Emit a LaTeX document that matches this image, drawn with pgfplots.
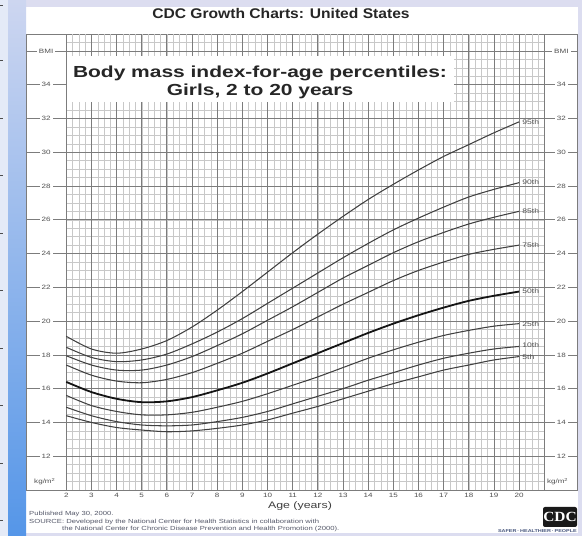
\documentclass[border=0pt]{standalone}
\usepackage{pgfplots}
\pgfplotsset{compat=1.18}
\usepackage{pgfplotstable}
\usepackage{graphicx}
\usepackage{fontspec}
\setmainfont{Liberation Sans}
\newfontfamily\serifb{Liberation Serif}

\definecolor{lav}{HTML}{DCDDF0}
\definecolor{gmaj}{HTML}{7C7C7C}
\definecolor{gmin}{HTML}{C8C8C8}
\definecolor{curve}{HTML}{404040}
\definecolor{txt}{HTML}{505050}
\definecolor{foot}{HTML}{55596A}
\definecolor{botband}{RGB}{200,222,245}
\definecolor{edgepale}{RGB}{228,234,247}
\definecolor{striptop}{RGB}{205,214,240}
\definecolor{stripbot}{RGB}{85,150,232}
\definecolor{slogan}{RGB}{70,85,125}

\pgfplotstableread{
age p5 p10 p25 p50 p75 p85 p90 p95
2 14.4 14.9 15.6 16.4 17.4 17.95 18.45 19.1
3 14.0 14.4 15.0 15.8 16.8 17.4 17.85 18.35
4 13.7 14.05 14.65 15.4 16.45 17.1 17.6 18.1
5 13.55 13.85 14.45 15.2 16.35 17.1 17.7 18.35
6 13.45 13.8 14.45 15.25 16.55 17.4 18.05 18.85
7 13.5 13.85 14.6 15.5 16.95 17.9 18.65 19.65
8 13.65 14.05 14.9 15.9 17.5 18.55 19.35 20.65
9 13.85 14.3 15.25 16.35 18.1 19.25 20.15 21.75
10 14.15 14.65 15.7 16.9 18.8 20.05 21.05 22.9
11 14.55 15.1 16.2 17.5 19.5 20.85 21.95 24.05
12 14.95 15.55 16.7 18.1 20.25 21.7 22.85 25.15
13 15.4 16.0 17.25 18.7 21.0 22.55 23.75 26.2
14 15.85 16.5 17.8 19.3 21.7 23.3 24.6 27.2
15 16.3 16.95 18.3 19.85 22.4 24.05 25.4 28.1
16 16.7 17.4 18.75 20.35 23.0 24.7 26.1 28.95
17 17.1 17.8 19.15 20.8 23.5 25.25 26.75 29.75
18 17.4 18.1 19.45 21.2 23.95 25.75 27.35 30.45
19 17.7 18.35 19.7 21.5 24.25 26.15 27.8 31.15
20 17.9 18.5 19.85 21.75 24.5 26.5 28.2 31.8
}\bmi

\newcommand{\sx}[2]{\scalebox{#1}[1]{#2}}
\newcommand{\tinyf}{\fontsize{6.2}{7}\selectfont}
\newcommand{\pctf}{\fontsize{6.6}{7.5}\selectfont}
\newcommand{\footf}{\fontsize{5.9}{7}\selectfont}

\begin{document}
\begin{tikzpicture}
\path[use as bounding box] (0,0) rectangle (582pt,536pt);
% background
\fill[lav] (0,0) rectangle (582pt,536pt);
\fill[white] (26pt,3pt) rectangle (578pt,529pt);
\fill[botband] (0,0) rectangle (26pt,3pt);
\fill[edgepale] (0,0) rectangle (8pt,536pt);
\shade[top color=striptop, bottom color=stripbot] (8pt,0) rectangle (26pt,536pt);
\foreach \yy in {16,73,131,188,246,303,361,418,476,531}{
  \draw[black!70, line width=0.6pt] (0,\yy pt) -- (3pt,\yy pt);
}
% top title
\node[font=\bfseries\fontsize{14}{16}\selectfont, text=black!85] at (281pt,523pt) {\sx{1.115}{CDC Growth Charts: United States}};

\begin{axis}[
  at={(26pt,46pt)}, anchor=south west,
  width=551pt, height=456pt, scale only axis,
  xmin=0.4, xmax=22.3, ymin=10, ymax=37,
  xtick=\empty, ytick=\empty,
  axis line style={gmaj, line width=0.8pt},
  clip=false,
]
% minor grid
\pgfplotsinvokeforeach{2.25,2.5,...,20.8}{
  \draw[gmin, line width=0.4pt] (axis cs:#1,10) -- (axis cs:#1,37);
}
\pgfplotsinvokeforeach{10.5,11,...,36.6}{
  \draw[gmin, line width=0.4pt] (axis cs:2,#1) -- (axis cs:21,#1);
}
% major grid
\pgfplotsinvokeforeach{12,14,...,36}{
  \draw[gmaj, line width=0.75pt] (axis cs:0.4,#1) -- (axis cs:22.3,#1);
}
\pgfplotsinvokeforeach{2,...,21}{
  \draw[gmaj, line width=0.8pt] (axis cs:#1,10) -- (axis cs:#1,37);
}
% title box
\fill[white] (axis cs:2.03,32.95) rectangle (axis cs:17.4,35.7);
\node[font=\bfseries\fontsize{16}{19}\selectfont, text=black!85] at (axis cs:9.7,34.65) {\sx{1.31}{Body mass index-for-age percentiles:}};
\node[font=\bfseries\fontsize{16}{19}\selectfont, text=black!85] at (axis cs:9.7,33.6) {\sx{1.31}{Girls, 2 to 20 years}};

% curves
\addplot[curve, line width=1.05pt, smooth] table[x=age,y=p5]{\bmi};
\addplot[curve, line width=1.05pt, smooth] table[x=age,y=p10]{\bmi};
\addplot[curve, line width=1.05pt, smooth] table[x=age,y=p25]{\bmi};
\addplot[black!92, line width=1.8pt, smooth] table[x=age,y=p50]{\bmi};
\addplot[curve, line width=1.05pt, smooth] table[x=age,y=p75]{\bmi};
\addplot[curve, line width=1.05pt, smooth] table[x=age,y=p85]{\bmi};
\addplot[curve, line width=1.05pt, smooth] table[x=age,y=p90]{\bmi};
\addplot[curve, line width=1.05pt, smooth] table[x=age,y=p95]{\bmi};

% percentile labels
\node[anchor=west, inner sep=0.5pt, font=\pctf, text=txt] at (axis cs:20.1,31.8) {\sx{1.3}{95th}};
\node[anchor=west, inner sep=0.5pt, font=\pctf, text=txt] at (axis cs:20.1,28.2) {\sx{1.3}{90th}};
\node[anchor=west, inner sep=0.5pt, font=\pctf, text=txt] at (axis cs:20.1,26.5) {\sx{1.3}{85th}};
\node[anchor=west, inner sep=0.5pt, font=\pctf, text=txt] at (axis cs:20.1,24.5) {\sx{1.3}{75th}};
\node[anchor=west, inner sep=0.5pt, font=\pctf, text=txt] at (axis cs:20.1,21.75) {\sx{1.3}{50th}};
\node[anchor=west, inner sep=0.5pt, font=\pctf, text=txt] at (axis cs:20.1,19.85) {\sx{1.3}{25th}};
\node[anchor=west, inner sep=0.5pt, font=\pctf, text=txt] at (axis cs:20.1,18.55) {\sx{1.3}{10th}};
\node[anchor=west, inner sep=0.5pt, font=\pctf, text=txt] at (axis cs:20.1,17.85) {\sx{1.3}{5th}};
% y labels in side columns
\pgfplotsinvokeforeach{12,14,...,34}{
  \node[fill=white, inner sep=2pt, font=\tinyf, text=txt] at (axis cs:1.2,#1) {\sx{1.3}{#1}};
  \node[fill=white, inner sep=2pt, font=\tinyf, text=txt] at (axis cs:21.68,#1) {\sx{1.3}{#1}};
}
\node[fill=white, inner sep=2pt, font=\tinyf, text=txt] at (axis cs:1.2,36) {\sx{1.3}{BMI}};
\node[fill=white, inner sep=2pt, font=\tinyf, text=txt] at (axis cs:21.68,36) {\sx{1.3}{BMI}};
\node[font=\tinyf, text=txt] at (axis cs:1.15,10.5) {\sx{1.3}{kg/m\textsuperscript{2}}};
\node[font=\tinyf, text=txt] at (axis cs:21.53,10.5) {\sx{1.3}{kg/m\textsuperscript{2}}};
% x tick labels
\pgfplotsinvokeforeach{2,...,20}{
  \node[anchor=north, inner sep=1pt, yshift=-2pt, font=\tinyf, text=txt] at (axis cs:#1,10) {\sx{1.3}{#1}};
}
\node[font=\fontsize{9.5}{11}\selectfont, text=black!75] at (axis cs:11.29,9.05) {\sx{1.3}{Age (years)}};
\end{axis}

% footnotes
\node[anchor=west, inner sep=0pt, font=\footf, text=foot] at (29pt,22pt) {\sx{1.3}{Published May 30, 2000.}};
\node[anchor=west, inner sep=0pt, font=\footf, text=foot] at (29pt,14.5pt) {\sx{1.3}{SOURCE: Developed by the National Center for Health Statistics in collaboration with}};
\node[anchor=west, inner sep=0pt, font=\footf, text=foot] at (62pt,7pt) {\sx{1.3}{the National Center for Chronic Disease Prevention and Health Promotion (2000).}};
% CDC logo
\fill[black!90, rounded corners=2pt] (543pt,9pt) rectangle (577pt,29pt);
\node[font=\serifb\bfseries\fontsize{14}{15}\selectfont, text=white] at (560pt,19pt) {\sx{1.1}{CDC}};
\node[anchor=east, inner sep=0pt, font=\bfseries\fontsize{4.2}{5}\selectfont, text=slogan] at (577pt,5pt) {\sx{1.3}{SAFER\,·\,HEALTHIER\,·\,PEOPLE}};
\end{tikzpicture}
\end{document}
